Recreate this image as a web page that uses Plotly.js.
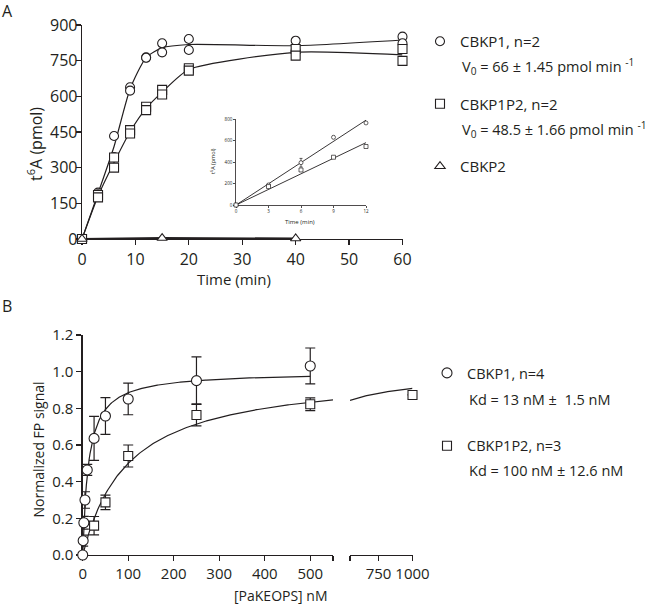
<!DOCTYPE html>
<html><head><meta charset="utf-8">
<script src="https://cdn.plot.ly/plotly-3.0.1.min.js"></script>
<style>html,body{margin:0;padding:0;background:#fff}</style>
</head><body><div id="chart" style="width:650px;height:605px"></div>
<script>
// ---------- Panel A: t6A formation over time ----------
const timeA = [0, 3, 6, 9, 12, 15, 20, 40, 60];
const cbkp1Rep1 = [0, 195, 433, 638, 764, 823, 841, 834, 851];
const cbkp1Rep2 = [0, 188, 345, 624, 762, 785, 795, 792, 823];
const cbkp1p2Rep1 = [0, 185, 343, 458, 556, 627, 718, 799, 799];
const cbkp1p2Rep2 = [0, 175, 300, 444, 542, 608, 708, 771, 749];
const timeK2 = [0, 15, 40];
const cbkp2Vals = [0, 4, 2];
const legendA = ['CBKP1, n=2', 'CBKP1P2, n=2', 'CBKP2'];
const rateTextA = ['V<sub>0</sub> = 66 ± 1.45 pmol min <sup>-1</sup>', 'V<sub>0</sub> = 48.5 ± 1.66 pmol min <sup>-1</sup>'];

// ---------- Panel A inset: initial rates ----------
const timeInset = [0, 3, 6, 9, 12];
const cbkp1Inset = [0, 187, 395, 632, 766];
const cbkp1InsetErr = [0, 8, 40, 10, 6];
const cbkp1p2Inset = [0, 172, 327, 446, 546];
const cbkp1p2InsetErr = [0, 6, 14, 8, 6];
const v0Slopes = [66, 48.5];
const insetFitEnd = 12;

// ---------- Panel B: FP binding ----------
const concB1 = [0, 1, 2.5, 5, 10, 25, 50, 100, 250, 500];
const fpB1 = [0, 0.078, 0.176, 0.30, 0.464, 0.636, 0.758, 0.851, 0.951, 1.031];
const fpB1Err = [0, 0.03, 0.035, 0.045, 0.03, 0.12, 0.1, 0.086, 0.13, 0.098];
const concB2 = [25, 50, 100, 250, 500, 1000];
const fpB2 = [0.16, 0.287, 0.54, 0.764, 0.822, 0.873];
const fpB2Err = [0.05, 0.04, 0.06, 0.06, 0.035, 0];
const kdValues = [13, 100];
const bmaxValues = [1.0, 1.0];
const legendB = ['CBKP1, n=4', 'CBKP1P2, n=3'];
const kdTextB = ['Kd = 13 nM ±  1.5 nM', 'Kd = 100 nM ± 12.6 nM'];
const xTickB1 = [0, 100, 200, 300, 400, 500];
const xTickB2 = [750, 1000];

// ---------- helpers ----------
const INK = '#231f20';
const FONT = 'Open Sans, Noto Sans, sans-serif';
const W = 650, H = 605;
const px = v => v / W;
const py = v => 1 - v / H;
const mean = (a, b) => a.map((v, i) => (v + b[i]) / 2);
const both = (a, b) => a.concat(b);
function bindingCurve(kd, bmax, x0, x1, n) {
  const xs = [], ys = [];
  for (let i = 0; i <= n; i++) {
    const x = x0 + (x1 - x0) * i / n;
    xs.push(x); ys.push(bmax * x / (kd + x));
  }
  return {x: xs, y: ys};
}

const segB1 = [0, 550], segB2 = [540, 1000];

const mk = (symbol, size) => ({symbol: symbol, size: size, color: '#ffffff', line: {color: INK, width: 1.1}});
const traces = [];

// Panel A mean lines
traces.push({x: timeA, y: mean(cbkp1Rep1, cbkp1Rep2), mode: 'lines', line: {color: INK, width: 1.2, shape: 'spline', smoothing: 0.6}, xaxis: 'x', yaxis: 'y', showlegend: false, hoverinfo: 'skip'});
traces.push({x: timeA, y: mean(cbkp1p2Rep1, cbkp1p2Rep2), mode: 'lines', line: {color: INK, width: 1.2, shape: 'spline', smoothing: 0.6}, xaxis: 'x', yaxis: 'y', showlegend: false, hoverinfo: 'skip'});
traces.push({x: timeK2, y: cbkp2Vals, mode: 'lines', line: {color: INK, width: 2}, xaxis: 'x', yaxis: 'y', showlegend: false, hoverinfo: 'skip'});
// Panel A markers
traces.push({x: both(timeA, timeA), y: both(cbkp1Rep1, cbkp1Rep2), mode: 'markers', marker: mk('circle', 9), name: legendA[0], legend: 'legend', legendgroup: 'a1', xaxis: 'x', yaxis: 'y', cliponaxis: false});
traces.push({x: both(timeA, timeA), y: both(cbkp1p2Rep1, cbkp1p2Rep2), mode: 'markers', marker: mk('square', 9), name: legendA[1], legend: 'legend', legendgroup: 'a2', xaxis: 'x', yaxis: 'y', cliponaxis: false});
traces.push({x: timeK2, y: cbkp2Vals, mode: 'markers', marker: mk('triangle-up', 9), name: legendA[2], legend: 'legend', legendgroup: 'a3', xaxis: 'x', yaxis: 'y', cliponaxis: false});

// Inset fits and points
[0, 1].forEach(i => {
  traces.push({x: [0, insetFitEnd], y: [0, v0Slopes[i] * insetFitEnd], mode: 'lines', line: {color: INK, width: 0.9}, xaxis: 'x2', yaxis: 'y2', showlegend: false, hoverinfo: 'skip'});
});
traces.push({x: timeInset, y: cbkp1Inset, error_y: {type: 'data', array: cbkp1InsetErr, color: INK, thickness: 0.7, width: 1.5}, mode: 'markers', marker: {symbol: 'circle', size: 4, color: '#fff', line: {color: INK, width: 0.7}}, xaxis: 'x2', yaxis: 'y2', showlegend: false, cliponaxis: false});
traces.push({x: timeInset, y: cbkp1p2Inset, error_y: {type: 'data', array: cbkp1p2InsetErr, color: INK, thickness: 0.7, width: 1.5}, mode: 'markers', marker: {symbol: 'square', size: 4, color: '#fff', line: {color: INK, width: 0.7}}, xaxis: 'x2', yaxis: 'y2', showlegend: false, cliponaxis: false});

// Panel B fit curves
const c1 = bindingCurve(kdValues[0], bmaxValues[0], 0, 500, 250);
traces.push({x: c1.x, y: c1.y, mode: 'lines', line: {color: INK, width: 1.2}, xaxis: 'x3', yaxis: 'y3', showlegend: false, hoverinfo: 'skip'});
const c2a = bindingCurve(kdValues[1], bmaxValues[1], segB1[0], segB1[1], 200);
traces.push({x: c2a.x, y: c2a.y, mode: 'lines', line: {color: INK, width: 1.2}, xaxis: 'x3', yaxis: 'y3', showlegend: false, hoverinfo: 'skip'});
const c2b = bindingCurve(kdValues[1], bmaxValues[1], segB2[0], segB2[1], 60);
traces.push({x: c2b.x, y: c2b.y, mode: 'lines', line: {color: INK, width: 1.2}, xaxis: 'x4', yaxis: 'y3', showlegend: false, hoverinfo: 'skip'});

// Panel B points
const errB = arr => ({type: 'data', array: arr, color: INK, thickness: 1.2, width: 5});
traces.push({x: concB1, y: fpB1, error_y: errB(fpB1Err), mode: 'markers', marker: mk('circle', 10), name: legendB[0], legend: 'legend2', legendgroup: 'b1', xaxis: 'x3', yaxis: 'y3', cliponaxis: false});
const inSeg1 = concB2.map(v => v <= segB1[1]);
traces.push({x: concB2.filter((v, i) => inSeg1[i]), y: fpB2.filter((v, i) => inSeg1[i]), error_y: errB(fpB2Err.filter((v, i) => inSeg1[i])), mode: 'markers', marker: mk('square', 9), name: legendB[1], legend: 'legend2', legendgroup: 'b2', xaxis: 'x3', yaxis: 'y3', cliponaxis: false});
traces.push({x: concB2.filter((v, i) => !inSeg1[i]), y: fpB2.filter((v, i) => !inSeg1[i]), error_y: errB(fpB2Err.filter((v, i) => !inSeg1[i])), mode: 'markers', marker: mk('square', 9), showlegend: false, xaxis: 'x4', yaxis: 'y3', cliponaxis: false});

const ax = (extra) => Object.assign({
  showline: true, linecolor: INK, linewidth: 1.3, ticks: 'outside', ticklen: 5, tickwidth: 1.3, tickcolor: INK,
  showgrid: false, zeroline: false, layer: 'below traces', fixedrange: true,
  tickfont: {family: FONT, size: 16, color: INK}
}, extra);

const ann = (text, x, y, size, extra) => Object.assign({
  text: text, x: px(x), y: py(y), xref: 'paper', yref: 'paper', showarrow: false,
  xanchor: 'center', yanchor: 'middle', font: {family: FONT, size: size, color: INK}
}, extra || {});

const layout = {
  width: W, height: H, margin: {l: 0, r: 0, t: 0, b: 0},
  paper_bgcolor: '#fff', plot_bgcolor: 'rgba(0,0,0,0)',
  font: {family: FONT, color: INK},
  xaxis: ax({domain: [px(82), px(402.5)], range: [0, 60], tickvals: [0, 10, 20, 30, 40, 50, 60], anchor: 'y'}),
  yaxis: ax({domain: [py(239), py(25)], range: [0, 900], tickvals: [0, 150, 300, 450, 600, 750, 900], anchor: 'x', ticklabelstandoff: -5}),
  xaxis2: ax({domain: [px(236), px(366)], range: [0, 12], tickvals: [0, 3, 6, 9, 12], anchor: 'y2', linewidth: 0.8, tickwidth: 0.8, ticklen: 2, tickfont: {family: FONT, size: 4.5, color: INK}}),
  yaxis2: ax({domain: [py(205), py(119.3)], range: [0, 800], tickvals: [0, 200, 400, 600, 800], anchor: 'x2', linewidth: 0.8, tickwidth: 0.8, ticklen: 2, tickfont: {family: FONT, size: 4.5, color: INK}}),
  xaxis3: ax({domain: [px(82.7), px(333)], range: segB1, tickvals: xTickB1, anchor: 'y3', tickfont: {family: FONT, size: 15, color: INK},
    minor: {tickvals: [segB1[1]], ticks: 'outside', ticklen: 5, tickwidth: 1.3, tickcolor: INK, showgrid: false}}),
  xaxis4: ax({domain: [px(350), px(412.5)], range: segB2, tickvals: xTickB2, anchor: 'y3', tickfont: {family: FONT, size: 15, color: INK},
    minor: {tickvals: [segB2[0]], ticks: 'outside', ticklen: 5, tickwidth: 1.3, tickcolor: INK, showgrid: false}}),
  yaxis3: ax({domain: [py(555), py(335)], range: [0, 1.2], tickvals: [0, 0.2, 0.4, 0.6, 0.8, 1.0, 1.2], tickformat: '.1f', anchor: 'x3', tickfont: {family: FONT, size: 15, color: INK}}),
  legend: {x: px(420), y: py(25), xanchor: 'left', yanchor: 'top', font: {family: FONT, size: 15, color: INK}, traceorder: 'grouped', tracegroupgap: 40, bgcolor: 'rgba(0,0,0,0)', borderwidth: 0},
  legend2: {x: px(427), y: py(357), xanchor: 'left', yanchor: 'top', font: {family: FONT, size: 14.5, color: INK}, traceorder: 'grouped', tracegroupgap: 51, bgcolor: 'rgba(0,0,0,0)', borderwidth: 0},
  annotations: [
    ann('A', 7, 11, 16),
    ann('B', 7, 306, 16),
    ann('Time (min)', 234, 279, 15),
    ann('t<sup>6</sup>A (pmol)', 35, 144, 16, {textangle: -90}),
    ann('Time (min)', 300, 222, 6),
    ann('t<sup>6</sup>A (pmol)', 213, 161, 5.5, {textangle: -90}),
    ann('[PaKEOPS] nM', 281, 595, 14),
    ann('Normalized FP signal', 37.5, 450, 14, {textangle: -90}),
    ann(rateTextA[0], 460, 67, 14.5, {xanchor: 'left'}),
    ann(rateTextA[1], 460, 130, 14.5, {xanchor: 'left'}),
    ann(kdTextB[0], 467, 399, 14.5, {xanchor: 'left'}),
    ann(kdTextB[1], 467, 470, 14.5, {xanchor: 'left'})
  ]
};

Plotly.newPlot('chart', traces, layout, {displayModeBar: false, staticPlot: true});
</script>
</body></html>
